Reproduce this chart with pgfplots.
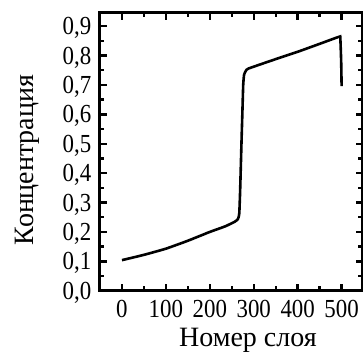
\documentclass[border=0pt]{standalone}
\usepackage{fontspec}
\setmainfont{Liberation Serif}
\newfontfamily\tickfont{Liberation Serif}[FakeStretch=0.88]
\usepackage{pgfplots}
\pgfplotsset{compat=1.18}
\usetikzlibrary{calc}
\begin{document}
\begin{tikzpicture}
\begin{axis}[
  scale only axis,
  width=262.7pt, height=278pt,
  xmin=-50, xmax=548, ymin=0, ymax=0.946,
  axis line style={line width=3pt},
  xtick={0,100,...,500}, ytick={0,0.1,...,0.9},
  minor x tick num=1, minor y tick num=1,
  tick align=inside, tick pos=both,
  major tick length=7pt, minor tick length=4.5pt,
  every tick/.style={black, line width=2.4pt},
  /pgf/number format/assume math mode=true,
  yticklabel style={/pgf/number format/.cd, fixed, fixed zerofill, precision=1, use comma, /tikz/.cd,
     anchor=base east, inner sep=0pt, xshift=-8.5pt, yshift=-8.6pt},
  xticklabel style={/pgf/number format/.cd, fixed, precision=0, /tikz/.cd,
     anchor=north, inner sep=0pt, yshift=-9.3pt},
  tick label style={font=\fontsize{26}{30}\tickfont},
  label style={font=\fontsize{28}{32}\selectfont},
  xlabel={Номер слоя}, ylabel={Концентрация},
  xlabel style={at={(axis description cs:0.563,0)}, anchor=base, inner sep=0pt, yshift=-56pt},
  ylabel style={at={(axis description cs:-0.255,0.47)}, anchor=base, inner sep=0pt},
  clip=false,
]
\addplot[black, line width=2.6pt, smooth, tension=0.3] coordinates {
(0,0.104) (50,0.122) (100,0.143) (150,0.170) (200,0.200) (235,0.219) (257,0.235) (264,0.244) (267,0.262)
(269,0.34) (272,0.50) (274,0.60) (276,0.70) (278,0.735) (282,0.748) (288,0.756)
(348,0.787) (400,0.813) (450,0.840) (494,0.864) (497,0.860) (499,0.78) (500,0.696)
};
\end{axis}
\pgfresetboundingbox
\path[use as bounding box] ($(current axis.south west)+(-100pt,-63.3pt)$) rectangle ($(current axis.north east)+(0.3pt,12.7pt)$);
\end{tikzpicture}
\end{document}
